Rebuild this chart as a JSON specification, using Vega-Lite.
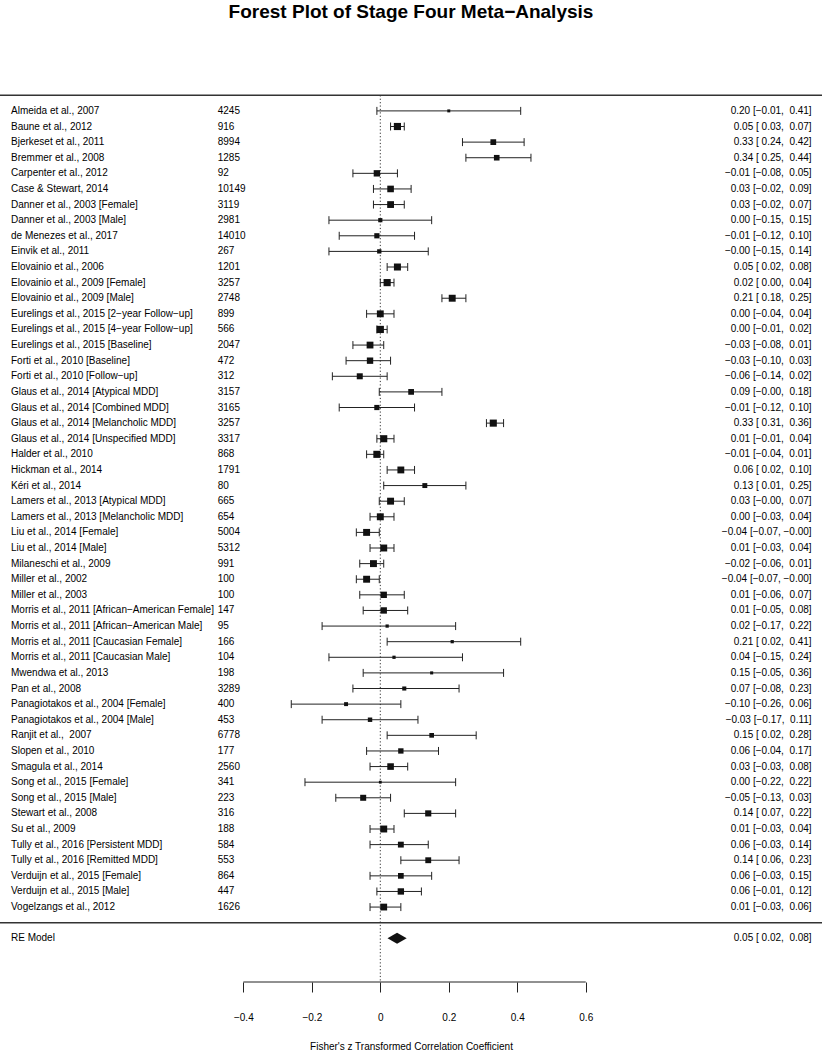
{
  "$schema": "https://vega.github.io/schema/vega-lite/v6.json",
  "width": 822,
  "height": 954,
  "autosize": "none",
  "padding": {"top": 28, "left": 0, "right": 0, "bottom": 68},
  "background": "white",
  "title": {"text": "Forest Plot of Stage Four Meta−Analysis", "font": "Liberation Sans", "fontSize": 19, "fontWeight": "bold", "color": "black", "anchor": "middle", "offset": 6},
  "config": {
    "view": {"stroke": null},
    "font": "Liberation Sans",
    "axis": {"grid": false},
    "axisX": {"domain": false, "tickSize": 10, "tickColor": "#222", "tickWidth": 1, "labelFont": "Liberation Sans", "labelFontSize": 10, "labelColor": "black", "labelPadding": 20, "titleFont": "Liberation Sans", "titleFontSize": 10, "titleFontWeight": "normal", "titleColor": "black", "titlePadding": 19}
  },
  "datasets": {
    "studies": [
      {"study":"Almeida et al., 2007","n":"4245","est":0.20,"lb":-0.01,"ub":0.41,"weight":51.3,"label":"0.20 [−0.01, \u00a00.41]","row":52},
      {"study":"Baune et al., 2012","n":"916","est":0.05,"lb":0.03,"ub":0.07,"weight":123.4,"label":"0.05 [ 0.03, \u00a00.07]","row":51},
      {"study":"Bjerkeset et al., 2011","n":"8994","est":0.33,"lb":0.24,"ub":0.42,"weight":98.9,"label":"0.33 [ 0.24, \u00a00.42]","row":50},
      {"study":"Bremmer et al., 2008","n":"1285","est":0.34,"lb":0.25,"ub":0.44,"weight":96.6,"label":"0.34 [ 0.25, \u00a00.44]","row":49},
      {"study":"Carpenter et al., 2012","n":"92","est":-0.01,"lb":-0.08,"ub":0.05,"weight":109.9,"label":"−0.01 [−0.08, \u00a00.05]","row":48},
      {"study":"Case & Stewart, 2014","n":"10149","est":0.03,"lb":-0.02,"ub":0.09,"weight":113.8,"label":"0.03 [−0.02, \u00a00.09]","row":47},
      {"study":"Danner et al., 2003 [Female]","n":"3119","est":0.03,"lb":-0.02,"ub":0.07,"weight":117.2,"label":"0.03 [−0.02, \u00a00.07]","row":46},
      {"study":"Danner et al., 2003 [Male]","n":"2981","est":0.00,"lb":-0.15,"ub":0.15,"weight":72.3,"label":"0.00 [−0.15, \u00a00.15]","row":45},
      {"study":"de Menezes et al., 2017","n":"14010","est":-0.01,"lb":-0.12,"ub":0.10,"weight":89.7,"label":"−0.01 [−0.12, \u00a00.10]","row":44},
      {"study":"Einvik et al., 2011","n":"267","est":-0.003,"lb":-0.15,"ub":0.14,"weight":74.2,"label":"−0.00 [−0.15, \u00a00.14]","row":43},
      {"study":"Elovainio et al., 2006","n":"1201","est":0.05,"lb":0.02,"ub":0.08,"weight":120.8,"label":"0.05 [ 0.02, \u00a00.08]","row":42},
      {"study":"Elovainio et al., 2009 [Female]","n":"3257","est":0.02,"lb":0.00,"ub":0.04,"weight":123.4,"label":"0.02 [ 0.00, \u00a00.04]","row":41},
      {"study":"Elovainio et al., 2009 [Male]","n":"2748","est":0.21,"lb":0.18,"ub":0.25,"weight":119.5,"label":"0.21 [ 0.18, \u00a00.25]","row":40},
      {"study":"Eurelings et al., 2015 [2−year Follow−up]","n":"899","est":0.00,"lb":-0.04,"ub":0.04,"weight":118.2,"label":"0.00 [−0.04, \u00a00.04]","row":39},
      {"study":"Eurelings et al., 2015 [4−year Follow−up]","n":"566","est":0.00,"lb":-0.01,"ub":0.02,"weight":124.3,"label":"0.00 [−0.01, \u00a00.02]","row":38},
      {"study":"Eurelings et al., 2015 [Baseline]","n":"2047","est":-0.03,"lb":-0.08,"ub":0.01,"weight":117.2,"label":"−0.03 [−0.08, \u00a00.01]","row":37},
      {"study":"Forti et al., 2010 [Baseline]","n":"472","est":-0.03,"lb":-0.10,"ub":0.03,"weight":109.9,"label":"−0.03 [−0.10, \u00a00.03]","row":36},
      {"study":"Forti et al., 2010 [Follow−up]","n":"312","est":-0.06,"lb":-0.14,"ub":0.02,"weight":103.5,"label":"−0.06 [−0.14, \u00a00.02]","row":35},
      {"study":"Glaus et al., 2014 [Atypical MDD]","n":"3157","est":0.09,"lb":-0.003,"ub":0.18,"weight":98.9,"label":"0.09 [−0.00, \u00a00.18]","row":34},
      {"study":"Glaus et al., 2014 [Combined MDD]","n":"3165","est":-0.01,"lb":-0.12,"ub":0.10,"weight":89.7,"label":"−0.01 [−0.12, \u00a00.10]","row":33},
      {"study":"Glaus et al., 2014 [Melancholic MDD]","n":"3257","est":0.33,"lb":0.31,"ub":0.36,"weight":122.4,"label":"0.33 [ 0.31, \u00a00.36]","row":32},
      {"study":"Glaus et al., 2014 [Unspecified MDD]","n":"3317","est":0.01,"lb":-0.01,"ub":0.04,"weight":122.4,"label":"0.01 [−0.01, \u00a00.04]","row":31},
      {"study":"Halder et al., 2010","n":"868","est":-0.01,"lb":-0.04,"ub":0.01,"weight":122.4,"label":"−0.01 [−0.04, \u00a00.01]","row":30},
      {"study":"Hickman et al., 2014","n":"1791","est":0.06,"lb":0.02,"ub":0.10,"weight":118.2,"label":"0.06 [ 0.02, \u00a00.10]","row":29},
      {"study":"Kéri et al., 2014","n":"80","est":0.13,"lb":0.01,"ub":0.25,"weight":85.1,"label":"0.13 [ 0.01, \u00a00.25]","row":28},
      {"study":"Lamers et al., 2013 [Atypical MDD]","n":"665","est":0.03,"lb":-0.003,"ub":0.07,"weight":119.5,"label":"0.03 [−0.00, \u00a00.07]","row":27},
      {"study":"Lamers et al., 2013 [Melancholic MDD]","n":"654","est":0.00,"lb":-0.03,"ub":0.04,"weight":119.5,"label":"0.00 [−0.03, \u00a00.04]","row":26},
      {"study":"Liu et al., 2014 [Female]","n":"5004","est":-0.04,"lb":-0.07,"ub":-0.003,"weight":119.5,"label":"−0.04 [−0.07, −0.00]","row":25},
      {"study":"Liu et al., 2014 [Male]","n":"5312","est":0.01,"lb":-0.03,"ub":0.04,"weight":119.5,"label":"0.01 [−0.03, \u00a00.04]","row":24},
      {"study":"Milaneschi et al., 2009","n":"991","est":-0.02,"lb":-0.06,"ub":0.01,"weight":119.5,"label":"−0.02 [−0.06, \u00a00.01]","row":23},
      {"study":"Miller et al., 2002","n":"100","est":-0.04,"lb":-0.07,"ub":-0.003,"weight":119.5,"label":"−0.04 [−0.07, −0.00]","row":22},
      {"study":"Miller et al., 2003","n":"100","est":0.01,"lb":-0.06,"ub":0.07,"weight":109.9,"label":"0.01 [−0.06, \u00a00.07]","row":21},
      {"study":"Morris et al., 2011 [African−American Female]","n":"147","est":0.01,"lb":-0.05,"ub":0.08,"weight":109.9,"label":"0.01 [−0.05, \u00a00.08]","row":20},
      {"study":"Morris et al., 2011 [African−American Male]","n":"95","est":0.02,"lb":-0.17,"ub":0.22,"weight":55.9,"label":"0.02 [−0.17, \u00a00.22]","row":19},
      {"study":"Morris et al., 2011 [Caucasian Female]","n":"166","est":0.21,"lb":0.02,"ub":0.41,"weight":55.9,"label":"0.21 [ 0.02, \u00a00.41]","row":18},
      {"study":"Morris et al., 2011 [Caucasian Male]","n":"104","est":0.04,"lb":-0.15,"ub":0.24,"weight":55.9,"label":"0.04 [−0.15, \u00a00.24]","row":17},
      {"study":"Mwendwa et al., 2013","n":"198","est":0.15,"lb":-0.05,"ub":0.36,"weight":52.8,"label":"0.15 [−0.05, \u00a00.36]","row":16},
      {"study":"Pan et al., 2008","n":"3289","est":0.07,"lb":-0.08,"ub":0.23,"weight":70.4,"label":"0.07 [−0.08, \u00a00.23]","row":15},
      {"study":"Panagiotakos et al., 2004 [Female]","n":"400","est":-0.10,"lb":-0.26,"ub":0.06,"weight":68.2,"label":"−0.10 [−0.26, \u00a00.06]","row":14},
      {"study":"Panagiotakos et al., 2004 [Male]","n":"453","est":-0.03,"lb":-0.17,"ub":0.11,"weight":76.3,"label":"−0.03 [−0.17, \u00a00.11]","row":13},
      {"study":"Ranjit et al., \u00a02007","n":"6778","est":0.15,"lb":0.02,"ub":0.28,"weight":80.6,"label":"0.15 [ 0.02, \u00a00.28]","row":12},
      {"study":"Slopen et al., 2010","n":"177","est":0.06,"lb":-0.04,"ub":0.17,"weight":92.0,"label":"0.06 [−0.04, \u00a00.17]","row":11},
      {"study":"Smagula et al., 2014","n":"2560","est":0.03,"lb":-0.03,"ub":0.08,"weight":113.8,"label":"0.03 [−0.03, \u00a00.08]","row":10},
      {"study":"Song et al., 2015 [Female]","n":"341","est":0.00,"lb":-0.22,"ub":0.22,"weight":48.5,"label":"0.00 [−0.22, \u00a00.22]","row":9},
      {"study":"Song et al., 2015 [Male]","n":"223","est":-0.05,"lb":-0.13,"ub":0.03,"weight":103.5,"label":"−0.05 [−0.13, \u00a00.03]","row":8},
      {"study":"Stewart et al., 2008","n":"316","est":0.14,"lb":0.07,"ub":0.22,"weight":105.7,"label":"0.14 [ 0.07, \u00a00.22]","row":7},
      {"study":"Su et al., 2009","n":"188","est":0.01,"lb":-0.03,"ub":0.04,"weight":119.5,"label":"0.01 [−0.03, \u00a00.04]","row":6},
      {"study":"Tully et al., 2016 [Persistent MDD]","n":"584","est":0.06,"lb":-0.03,"ub":0.14,"weight":101.2,"label":"0.06 [−0.03, \u00a00.14]","row":5},
      {"study":"Tully et al., 2016 [Remitted MDD]","n":"553","est":0.14,"lb":0.06,"ub":0.23,"weight":101.2,"label":"0.14 [ 0.06, \u00a00.23]","row":4},
      {"study":"Verduijn et al., 2015 [Female]","n":"864","est":0.06,"lb":-0.03,"ub":0.15,"weight":98.9,"label":"0.06 [−0.03, \u00a00.15]","row":3},
      {"study":"Verduijn et al., 2015 [Male]","n":"447","est":0.06,"lb":-0.01,"ub":0.12,"weight":109.9,"label":"0.06 [−0.01, \u00a00.12]","row":2},
      {"study":"Vogelzangs et al., 2012","n":"1626","est":0.01,"lb":-0.03,"ub":0.06,"weight":117.2,"label":"0.01 [−0.03, \u00a00.06]","row":1}
    ],
    "summary": [
      {"study":"RE Model","est":0.05,"lb":0.02,"ub":0.08,"label":"0.05 [ 0.02, \u00a00.08]","row":-1}
    ],
    "diamond": [
      {"x":0.021,"top":-1,"bottom":-1},
      {"x":0.049,"top":-0.648,"bottom":-1.352},
      {"x":0.077,"top":-1,"bottom":-1}
    ],
    "separators": [{"row":53},{"row":0}]
  },
  "layer": [
    {
      "data": {"name": "separators"},
      "mark": {"type": "rule", "color": "#333", "strokeWidth": 1.5},
      "encoding": {
        "y": {"field": "row", "type": "quantitative", "scale": {"domain": [-3.8, 57.31], "nice": false, "zero": false}, "axis": null}
      }
    },
    {
      "data": {"values": [{}]},
      "mark": {"type": "rule", "color": "#333", "strokeWidth": 1, "strokeDash": [1.2, 2.2]},
      "encoding": {
        "x": {"datum": 0, "type": "quantitative", "scale": {"domain": [-1.1107, 1.29], "nice": false, "zero": false}},
        "y": {"datum": 53, "type": "quantitative", "scale": {"domain": [-3.8, 57.31], "nice": false, "zero": false}, "axis": null},
        "y2": {"datum": -3.8}
      }
    },
    {
      "data": {"values": [{}]},
      "mark": {"type": "rule", "color": "#222", "strokeWidth": 1},
      "encoding": {
        "x": {"datum": -0.4, "type": "quantitative", "scale": {"domain": [-1.1107, 1.29], "nice": false, "zero": false}},
        "x2": {"datum": 0.6},
        "y": {"datum": -3.8, "type": "quantitative", "scale": {"domain": [-3.8, 57.31], "nice": false, "zero": false}, "axis": null}
      }
    },
    {
      "data": {"name": "studies"},
      "mark": {"type": "rule", "color": "#222", "strokeWidth": 1},
      "encoding": {
        "x": {"field": "lb", "type": "quantitative", "scale": {"domain": [-1.1107, 1.29], "nice": false, "zero": false}},
        "x2": {"field": "ub"},
        "y": {"field": "row", "type": "quantitative", "scale": {"domain": [-3.8, 57.31], "nice": false, "zero": false}, "axis": null}
      }
    },
    {
      "data": {"name": "studies"},
      "mark": {"type": "point", "shape": "M0,-1L0,1", "filled": false, "size": 64, "strokeWidth": 1, "color": "#222", "opacity": 1},
      "encoding": {
        "x": {"field": "lb", "type": "quantitative", "scale": {"domain": [-1.1107, 1.29], "nice": false, "zero": false}},
        "y": {"field": "row", "type": "quantitative", "scale": {"domain": [-3.8, 57.31], "nice": false, "zero": false}, "axis": null}
      }
    },
    {
      "data": {"name": "studies"},
      "mark": {"type": "point", "shape": "M0,-1L0,1", "filled": false, "size": 64, "strokeWidth": 1, "color": "#222", "opacity": 1},
      "encoding": {
        "x": {"field": "ub", "type": "quantitative", "scale": {"domain": [-1.1107, 1.29], "nice": false, "zero": false}},
        "y": {"field": "row", "type": "quantitative", "scale": {"domain": [-3.8, 57.31], "nice": false, "zero": false}, "axis": null}
      }
    },
    {
      "data": {"name": "studies"},
      "mark": {"type": "point", "shape": "square", "filled": true, "color": "#111", "opacity": 1, "strokeWidth": 0},
      "encoding": {
        "x": {"field": "est", "type": "quantitative", "scale": {"domain": [-1.1107, 1.29], "nice": false, "zero": false},
              "axis": {"values": [-0.4, -0.2, 0, 0.2, 0.4, 0.6], "labelExpr": "datum.value == 0 ? '0' : format(datum.value, '.1f')", "title": "Fisher's z Transformed Correlation Coefficient"}},
        "y": {"field": "row", "type": "quantitative", "scale": {"domain": [-3.8, 57.31], "nice": false, "zero": false}, "axis": null},
        "size": {"field": "weight", "type": "quantitative", "scale": {"type": "pow", "exponent": 2, "domain": [0, 124.3], "range": [0, 52]}, "legend": null}
      }
    },
    {
      "data": {"name": "diamond"},
      "mark": {"type": "area", "orient": "vertical", "color": "#111", "opacity": 1},
      "encoding": {
        "x": {"field": "x", "type": "quantitative", "scale": {"domain": [-1.1107, 1.29], "nice": false, "zero": false}},
        "y": {"field": "top", "type": "quantitative", "scale": {"domain": [-3.8, 57.31], "nice": false, "zero": false}, "axis": null},
        "y2": {"field": "bottom"}
      }
    },
    {
      "data": {"name": "studies"},
      "mark": {"type": "text", "align": "left", "baseline": "middle", "font": "Liberation Sans", "fontSize": 10, "color": "black"},
      "encoding": {
        "x": {"datum": -1.0786, "type": "quantitative", "scale": {"domain": [-1.1107, 1.29], "nice": false, "zero": false}},
        "y": {"field": "row", "type": "quantitative", "scale": {"domain": [-3.8, 57.31], "nice": false, "zero": false}, "axis": null},
        "text": {"field": "study"}
      }
    },
    {
      "data": {"name": "studies"},
      "mark": {"type": "text", "align": "left", "baseline": "middle", "font": "Liberation Sans", "fontSize": 10, "color": "black"},
      "encoding": {
        "x": {"datum": -0.4749, "type": "quantitative", "scale": {"domain": [-1.1107, 1.29], "nice": false, "zero": false}},
        "y": {"field": "row", "type": "quantitative", "scale": {"domain": [-3.8, 57.31], "nice": false, "zero": false}, "axis": null},
        "text": {"field": "n"}
      }
    },
    {
      "data": {"name": "studies"},
      "mark": {"type": "text", "align": "right", "baseline": "middle", "font": "Liberation Sans", "fontSize": 10, "color": "black"},
      "encoding": {
        "x": {"datum": 1.2597, "type": "quantitative", "scale": {"domain": [-1.1107, 1.29], "nice": false, "zero": false}},
        "y": {"field": "row", "type": "quantitative", "scale": {"domain": [-3.8, 57.31], "nice": false, "zero": false}, "axis": null},
        "text": {"field": "label"}
      }
    },
    {
      "data": {"name": "summary"},
      "mark": {"type": "text", "align": "left", "baseline": "middle", "font": "Liberation Sans", "fontSize": 10, "color": "black"},
      "encoding": {
        "x": {"datum": -1.0786, "type": "quantitative", "scale": {"domain": [-1.1107, 1.29], "nice": false, "zero": false}},
        "y": {"field": "row", "type": "quantitative", "scale": {"domain": [-3.8, 57.31], "nice": false, "zero": false}, "axis": null},
        "text": {"field": "study"}
      }
    },
    {
      "data": {"name": "summary"},
      "mark": {"type": "text", "align": "right", "baseline": "middle", "font": "Liberation Sans", "fontSize": 10, "color": "black"},
      "encoding": {
        "x": {"datum": 1.2597, "type": "quantitative", "scale": {"domain": [-1.1107, 1.29], "nice": false, "zero": false}},
        "y": {"field": "row", "type": "quantitative", "scale": {"domain": [-3.8, 57.31], "nice": false, "zero": false}, "axis": null},
        "text": {"field": "label"}
      }
    }
  ]
}
